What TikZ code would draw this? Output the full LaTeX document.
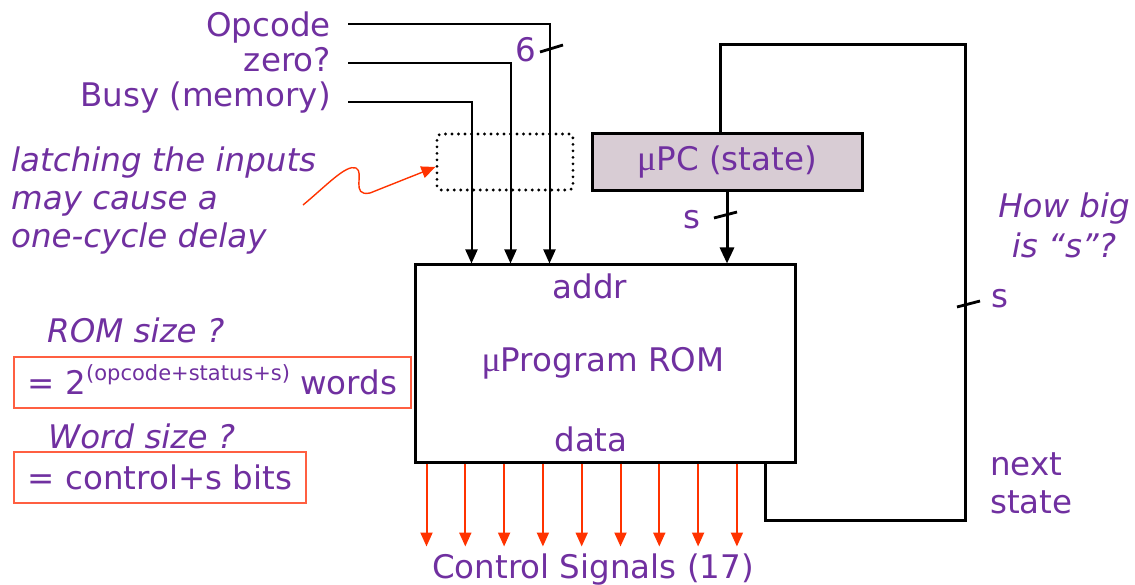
\documentclass[tikz,border=0pt]{standalone}
\usepackage{fontspec}
\setmainfont{DejaVu Sans}
\newfontfamily\mufont{Liberation Serif}
\usetikzlibrary{arrows.meta,calc}
\definecolor{txtpurple}{RGB}{112,48,160}
\definecolor{sigred}{RGB}{255,51,0}
\definecolor{hintred}{RGB}{255,95,65}
\definecolor{pcfill}{RGB}{216,204,212}
\newcommand{\mumark}{{\mufont\fontsize{36}{38}\selectfont μ}}
\begin{document}
\begin{tikzpicture}[x=1pt,y=-1pt,
  every node/.style={text=txtpurple,inner sep=0pt,font=\fontsize{32.5}{38}\selectfont},
  lbl/.style={},
  note/.style={font=\fontsize{32.5}{38}\selectfont\itshape},
  inwire/.style={draw=black,line width=2pt,-{Triangle[length=14pt,width=12pt]}},
  buswire/.style={draw=black,line width=3pt},
  ctrlarrow/.style={draw=sigred,line width=2pt,-{Triangle[length=14pt,width=12pt]}},
  busmark/.style={draw=black,line width=2.8pt},
  hintbox/.style={draw=hintred,line width=1.8pt,inner xsep=14pt,minimum height=51pt,
    text height=23pt,text depth=0pt},
  latchbox/.style={draw=black,line width=3.2pt,dash pattern=on 0pt off 6.5pt,line cap=round,
    rounded corners=4pt,minimum width=136pt,minimum height=56pt},
  rombox/.style={draw=black,line width=3pt,fill=white,minimum width=380pt,minimum height=197pt},
  pcbox/.style={draw=black,line width=3pt,fill=pcfill,minimum width=270pt,minimum height=57pt}
]
\useasboundingbox (0,0) rectangle (1135,585);

% main blocks
\node[rombox] (rom) at (605,363.5) {};
\node[pcbox] (upc) at (727,162.5) {};
\node[lbl] (upctext) at (727,162) {\mumark PC (state)};
\node[latchbox] (latch) at (505,162) {};

% labels inside the ROM
\node[lbl,anchor=base] (addr) at (590,299) {addr};
\node[lbl,anchor=base] (romname) at (603,371) {\mumark Program ROM};
\node[lbl,anchor=base] (data) at (591,451) {data};

% input signals
\node[lbl,anchor=base east] (opcode) at (331,37) {Opcode};
\node[lbl,anchor=base east] (zero) at (331,72) {zero?};
\node[lbl,anchor=base east] (busy) at (331,107) {Busy (memory)};
\coordinate (opin) at (348,24);
\coordinate (zeroin) at (348,63);
\coordinate (busyin) at (348,102);
\draw[inwire] (opin) -| ($(rom.north west)+(136,0)$);
\draw[inwire] (zeroin) -| ($(rom.north west)+(97,0)$);
\draw[inwire] (busyin) -| ($(rom.north west)+(58,0)$);
\node[lbl,anchor=base] (six) at (526,62) {6};
\draw[busmark] (540,52) -- (563,45);

% state register to ROM address
\draw[buswire,-{Triangle[length=16pt,width=14pt]}] (upc.south) -- (upc.south |- rom.north);
\node[lbl,anchor=base] (sa) at (692,229) {s};
\draw[busmark] (714,218) -- (737,212);

% next-state feedback loop
\coordinate (loopTR) at (965,45);
\coordinate (loopBR) at (965,520);
\draw[buswire] ($(rom.south east)+(-31,0)$) |- (loopBR) -- (loopTR) -| ($(upc.north)+(-7,0)$);
\draw[busmark] (957,307) -- (980,301);
\node[lbl,anchor=base west] (sb) at (991,308) {s};
\node[note,anchor=base] (howbig) at (1064,218) {How big};
\node[note,anchor=base] (isbig) at (1064,258) {is “s”?};
\node[lbl,anchor=base west] (nexta) at (990,475) {next};
\node[lbl,anchor=base west] (nextb) at (990,513) {state};

% control outputs
\foreach \i in {0,...,8}
  \draw[ctrlarrow] ($(rom.south west)+(13+38.8*\i,0)$) -- ++(0,83);
\node[lbl,anchor=base] (ctrl) at (593,578) {Control Signals (17)};

% latching note
\node[note,anchor=base west] (lat1) at (11,172) {latching the inputs};
\node[note,anchor=base west] (lat2) at (11,210) {may cause a};
\node[note,anchor=base west] (lat3) at (11,248) {one-cycle delay};
\coordinate (sqstart) at (303,205);
\draw[ctrlarrow,line width=1.4pt] (sqstart) .. controls (325,187) and (346,164) .. (356,168)
  .. controls (365,172) and (350,197) .. (370,193) -- ($(latch.west)+(0,5)$);

% size questions
\node[note,anchor=base west] (romq) at (47,342) {ROM size ?};
\node[hintbox,anchor=west] (roma) at (13,382.5)
  {= 2\raisebox{0.42em}{\fontsize{21}{24}\selectfont(opcode+status+s)} words};
\node[note,anchor=base west] (wordq) at (48,448) {Word size ?};
\node[hintbox,anchor=west] (worda) at (13,477.5) {= control+s bits};
\end{tikzpicture}
\end{document}
